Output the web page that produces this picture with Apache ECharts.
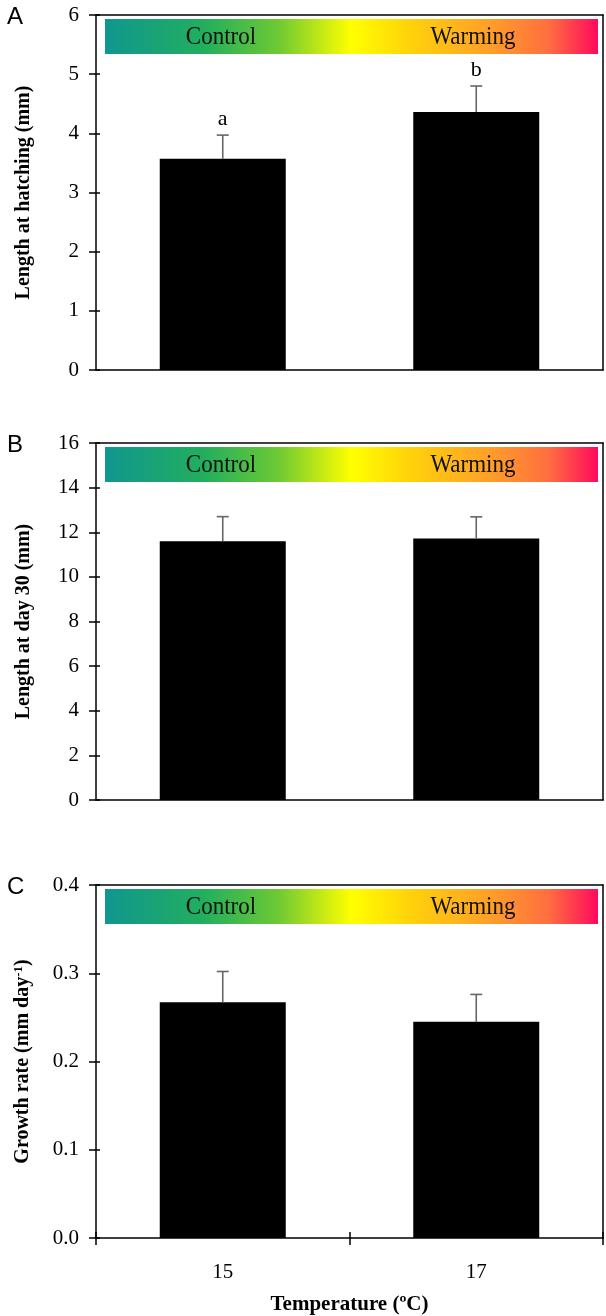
<!DOCTYPE html>
<html><head><meta charset="utf-8">
<script src="https://cdn.jsdelivr.net/npm/echarts@6/dist/echarts.min.js"></script>
<style>html,body{margin:0;padding:0;background:#fff}#c{width:606px;height:1316px}</style>
</head><body><div id="c"></div>
<script>
const categories = ['15', '17'];
const hatchLength = [3.57, 4.36];
const hatchErr = [0.40, 0.44];
const hatchLetters = ['a', 'b'];
const day30Length = [11.6, 11.72];
const day30Err = [1.1, 0.97];
const growthRate = [0.267, 0.245];
const growthErr = [0.035, 0.031];
const bannerLabels = ['Control', 'Warming'];
const panelLetters = ['A', 'B', 'C'];
const yTitles = ['Length at hatching (mm)', 'Length at day 30 (mm)', '{t|Growth rate (mm day}{s|-1}{t|)}'];
const yMax = [6, 16, 0.4];
const yInterval = [1, 2, 0.1];

const GL = 96, GW = 507;
const tops = [15, 443, 885];
const heights = [355, 357, 355];
const serif = '"Liberation Serif", "Times New Roman", serif';

const chart = echarts.init(document.getElementById('c'), null, {renderer: 'canvas'});

const grids = tops.map((t, i) => ({left: GL, top: t, width: GW, height: heights[i], show: false, containLabel: false}));

const xAxes = [0, 1, 2].map(i => ({
  type: 'category', gridIndex: i, data: categories,
  axisLine: {show: true, onZero: false, lineStyle: {color: '#000', width: 1.5}},
  axisTick: {show: i === 2, length: 7, alignWithLabel: false, lineStyle: {color: '#000', width: 1.5}},
  axisLabel: {show: i === 2, color: '#000', fontFamily: serif, fontSize: 21, margin: 24},
  name: i === 2 ? 'Temperature (ºC)' : '',
  nameLocation: 'middle', nameGap: 56,
  nameTextStyle: {color: '#000', fontFamily: serif, fontSize: 21, fontWeight: 'bold'}
}));
// top frame axes
const xTop = [0, 1, 2].map(i => ({
  type: 'category', gridIndex: i, data: categories, position: 'top',
  axisLine: {show: true, onZero: false, lineStyle: {color: '#000', width: 1.5}},
  axisTick: {show: false}, axisLabel: {show: false}
}));
// inner half of crossing ticks on bottom axis of panel C
const xInner = [{
  type: 'category', gridIndex: 2, data: categories, position: 'bottom',
  axisLine: {show: false, onZero: false},
  axisTick: {show: true, inside: true, length: 6, lineStyle: {color: '#000', width: 1.5}},
  axisLabel: {show: false}
}];

const yAxes = [0, 1, 2].map(i => ({
  type: 'value', gridIndex: i, min: 0, max: yMax[i], interval: yInterval[i],
  axisLine: {show: true, lineStyle: {color: '#000', width: 1.5}},
  axisTick: {show: true, length: 7, lineStyle: {color: '#000', width: 1.5}},
  axisLabel: {color: '#000', fontFamily: serif, fontSize: 21, margin: 17,
    formatter: v => i === 2 ? v.toFixed(1) : String(v)},
  splitLine: {show: false},
  name: yTitles[i], nameLocation: 'middle', nameGap: 62, nameRotate: 90,
  nameTextStyle: {color: '#000', fontFamily: serif, fontSize: 20, fontWeight: 'bold',
    rich: {
      t: {fontFamily: serif, fontSize: 20, fontWeight: 'bold', color: '#000'},
      s: {fontFamily: serif, fontSize: 13, fontWeight: 'bold', color: '#000', padding: [0, 0, 9, 0]}
    }}
}));
const yRight = [0, 1, 2].map(i => ({
  type: 'value', gridIndex: i, min: 0, max: yMax[i], interval: yInterval[i], position: 'right',
  axisLine: {show: true, lineStyle: {color: '#000', width: 1.5}},
  axisTick: {show: false}, axisLabel: {show: false}, splitLine: {show: false}
}));
const yInner = [0, 1, 2].map(i => ({
  type: 'value', gridIndex: i, min: 0, max: yMax[i], interval: yInterval[i], position: 'left',
  axisLine: {show: false}, axisTick: {show: true, inside: true, length: 4, lineStyle: {color: '#000', width: 1.5}},
  axisLabel: {show: false}, splitLine: {show: false}
}));

const values = [hatchLength, day30Length, growthRate];
const errs = [hatchErr, day30Err, growthErr];
const letters = [hatchLetters, null, null];

function errRender(lt) {
  return function (params, api) {
    const x = api.value(0), v = api.value(1), e = api.value(2);
    const b = api.coord([x, v]);
    const t = api.coord([x, v + e]);
    const ch = [
      {type: 'line', shape: {x1: b[0], y1: b[1], x2: t[0], y2: t[1]}, style: {stroke: '#666', lineWidth: 1.6}},
      {type: 'line', shape: {x1: t[0] - 6, y1: t[1], x2: t[0] + 6, y2: t[1]}, style: {stroke: '#666', lineWidth: 1.6}}
    ];
    if (lt) ch.push({type: 'text', x: t[0], y: t[1] - 5,
      style: {text: lt[params.dataIndex], fill: '#000', font: '22px ' + serif, textAlign: 'center', textVerticalAlign: 'bottom'}});
    return {type: 'group', children: ch};
  };
}

const series = [];
[0, 1, 2].map(i => {
  series.push({type: 'bar', xAxisIndex: i, yAxisIndex: i, data: values[i], barWidth: 126,
    itemStyle: {color: '#000'}, silent: true, z: 2});
  series.push({type: 'custom', xAxisIndex: i, yAxisIndex: i, z: 3,
    data: values[i].map((v, k) => [k, v, errs[i][k]]),
    encode: {x: 0, y: 1}, renderItem: errRender(letters[i])});
});

const grad = new echarts.graphic.LinearGradient(0, 0, 1, 0, [
  {offset: 0, color: '#10978F'},
  {offset: 0.2, color: '#22AE5E'},
  {offset: 0.35, color: '#6CC934'},
  {offset: 0.5, color: '#FFFF00'},
  {offset: 0.62, color: '#FFD20A'},
  {offset: 0.78, color: '#FF9F28'},
  {offset: 0.9, color: '#FF6E40'},
  {offset: 1, color: '#FF0A5C'}
]);
const graphic = [];
tops.forEach((t, i) => {
  graphic.push({type: 'rect', left: 105, top: t + 4, shape: {width: 493, height: 35}, style: {fill: grad}, z: 10});
  graphic.push({type: 'text', x: 221, y: t + 22, z: 11, scaleY: 1.12, style: {text: bannerLabels[0], fill: '#111', font: '23px ' + serif, textAlign: 'center', textVerticalAlign: 'middle'}});
  graphic.push({type: 'text', x: 473, y: t + 22, z: 11, scaleY: 1.12, style: {text: bannerLabels[1], fill: '#111', font: '23px ' + serif, textAlign: 'center', textVerticalAlign: 'middle'}});
  graphic.push({type: 'text', left: 7, top: t - 10, z: 11, style: {text: panelLetters[i], fill: '#000', font: '24px "Liberation Sans", Arial, sans-serif'}});
});

chart.setOption({
  animation: false,
  backgroundColor: '#fff',
  grid: grids,
  xAxis: xAxes.concat(xTop, xInner),
  yAxis: yAxes.concat(yRight, yInner),
  series: series,
  graphic: graphic
});
</script></body></html>
